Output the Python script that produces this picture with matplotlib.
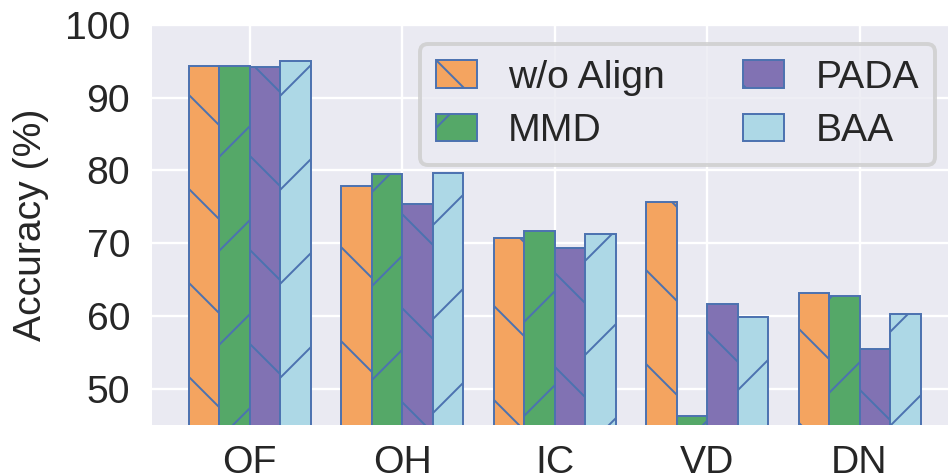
import matplotlib
matplotlib.use("Agg")
import matplotlib.pyplot as plt
import numpy as np
import seaborn as sns

categories = ["OF", "OH", "IC", "VD", "DN"]
series_names = ["w/o Align", "MMD", "PADA", "BAA"]
wo_align = [94.4, 77.9, 70.7, 75.7, 63.2]
mmd = [94.4, 79.5, 71.7, 46.3, 62.8]
pada = [94.2, 75.4, 69.3, 61.7, 55.4]
baa = [95.0, 79.7, 71.3, 59.9, 60.2]
yticks = [50, 60, 70, 80, 90, 100]

sns.set_theme(style="darkgrid")
plt.rcParams["font.family"] = ["Liberation Sans", "DejaVu Sans"]
plt.rcParams["hatch.linewidth"] = 0.5
plt.rcParams["hatch.color"] = "#4C72B0"

DPI = 282
fig = plt.figure(figsize=(948 / DPI, 475 / DPI), dpi=DPI)
ax = fig.add_axes([152 / 948, 1 - 425 / 475, (948 - 152) / 948, 400 / 475])

colors = ["#F4A460", "#55A868", "#8172B3", "#ADD8E6"]
hatches = ["\\", "/", "\\", "/"]
data = [wo_align, mmd, pada, baa]
x = np.arange(len(categories))
w = 0.2
for i, (name, vals) in enumerate(zip(series_names, data)):
    ax.bar(x + (i - 1.5) * w, vals, width=w, color=colors[i], hatch=hatches[i],
           edgecolor="#4C72B0", linewidth=0.5, label=name, zorder=2)

ax.set_xlim(-0.64, 4.58)
ax.set_ylim(45, 100)
ax.set_xticks(x)
ax.set_xticklabels(categories)
ax.set_yticks(yticks)
ax.grid(True, color="white", linewidth=0.6)
ax.set_axisbelow(True)
ax.tick_params(axis="both", labelsize=10, colors="#262626", length=0)
ax.tick_params(axis="y", pad=5.6)
ax.tick_params(axis="x", pad=5.0)
ax.set_ylabel("Accuracy (%)", fontsize=10, color="#262626", labelpad=4)
for s in ax.spines.values():
    s.set_visible(False)

leg = ax.legend(ncol=2, fontsize=10, loc="upper right",
                bbox_to_anchor=(935 / 948, 1 - 44 / 475), bbox_transform=fig.transFigure,
                borderaxespad=0, handlelength=1.05, handleheight=0.7,
                handletextpad=0.8, columnspacing=2.0, labelspacing=0.45,
                frameon=True, edgecolor="0.8", fancybox=True)
for t in leg.get_texts():
    t.set_color("#262626")

fig.savefig("out.png", dpi=DPI)
